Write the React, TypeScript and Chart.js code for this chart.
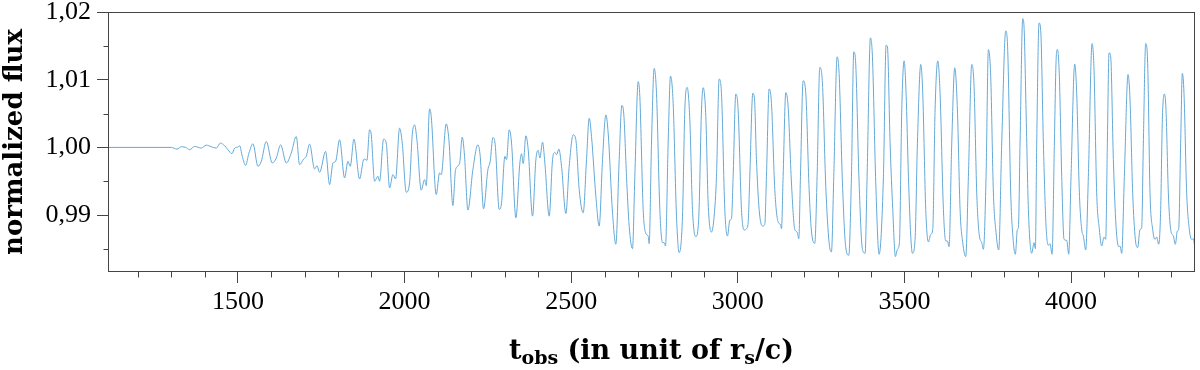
import React, { useEffect, useRef } from 'react';
import { Chart, registerables } from 'chart.js';

Chart.register(...registerables);

// ---- data ----
const T_OBS: number[] = [
  1110, 1200, 1300, 1317, 1330, 1343, 1355, 1370, 1390, 1405, 1420, 1435, 1447, 1460, 1470, 1482, 1490, 1500, 1505, 1513,
  1523, 1533, 1545, 1560, 1570, 1585, 1603, 1615, 1628, 1645, 1660, 1675, 1685, 1697, 1705, 1715, 1730, 1737, 1745, 1763,
  1775, 1785, 1793, 1805, 1820, 1830, 1837, 1848, 1865, 1877, 1880, 1887, 1895, 1900, 1910, 1920, 1925, 1937, 1945, 1955,
  1965, 1973, 1985, 1993, 2005, 2015, 2023, 2030, 2037, 2050, 2060, 2065, 2075, 2080, 2095, 2105, 2110, 2125, 2133, 2145,
  2153, 2165, 2173, 2180, 2190, 2205, 2220, 2227, 2237, 2250, 2257, 2265, 2272, 2284, 2291, 2301, 2306, 2314, 2321, 2334,
  2346, 2351, 2356, 2364, 2371, 2384, 2394, 2401, 2406, 2414, 2421, 2434, 2444, 2451, 2456, 2463, 2471, 2484, 2494, 2506,
  2514, 2524, 2536, 2546, 2554, 2561, 2574, 2584, 2594, 2604, 2611, 2624, 2634, 2644, 2652, 2658, 2666, 2674, 2684, 2691,
  2701, 2706, 2716, 2724, 2731, 2734, 2741, 2749, 2756, 2766, 2774, 2779, 2783, 2791, 2798, 2806, 2816, 2824, 2834, 2841,
  2848, 2856, 2864, 2874, 2883, 2891, 2896, 2904, 2911, 2921, 2929, 2936, 2944, 2951, 2961, 2969, 2976, 2981, 2986, 2994,
  3001, 3011, 3019, 3026, 3031, 3036, 3045, 3050, 3056, 3064, 3074, 3081, 3086, 3094, 3101, 3111, 3121, 3128, 3131, 3136,
  3144, 3151, 3161, 3171, 3178, 3183, 3188, 3196, 3204, 3214, 3221, 3231, 3238, 3246, 3254, 3264, 3274, 3281, 3288, 3298,
  3304, 3314, 3324, 3333, 3341, 3348, 3354, 3364, 3374, 3382, 3388, 3398, 3404, 3414, 3424, 3437, 3445, 3449, 3457, 3465,
  3473, 3479, 3485, 3492, 3499, 3505, 3512, 3519, 3524, 3532, 3539, 3549, 3555, 3564, 3572, 3579, 3585, 3592, 3600, 3607,
  3617, 3624, 3629, 3634, 3642, 3651, 3659, 3667, 3675, 3684, 3692, 3702, 3709, 3717, 3724, 3732, 3737, 3745, 3752, 3759,
  3767, 3775, 3783, 3792, 3804, 3810, 3819, 3827, 3833, 3839, 3842, 3847, 3855, 3859, 3865, 3872, 3882, 3889, 3893, 3897,
  3904, 3909, 3917, 3925, 3932, 3937, 3943, 3950, 3955, 3959, 3965, 3972, 3979, 3987, 3993, 4000, 4011, 4017, 4025, 4032,
  4037, 4044, 4052, 4063, 4069, 4077, 4085, 4092, 4099, 4104, 4109, 4114, 4119, 4127, 4135, 4143, 4147, 4152, 4160, 4171,
  4177, 4185, 4193, 4200, 4207, 4212, 4217, 4224, 4230, 4237, 4245, 4252, 4257, 4263, 4269, 4274, 4280, 4285, 4292, 4299,
  4307, 4313, 4319, 4323, 4329, 4334, 4339, 4347, 4355, 4362, 4367, 4372,
];

const FLUX: number[] = [
  1.0, 1.0, 1.0, 0.99975, 1.0001, 1.0, 0.99966, 1.00015, 0.9999, 1.00034, 1.0001, 0.9999, 1.00064, 1.00025, 0.99966, 0.99907, 0.9999, 1.00005, 1.00025, 0.99868,
  0.99735, 0.99917, 1.00054, 0.99721, 0.99794, 1.00088, 0.9977, 0.99843, 1.00039, 0.9977, 0.99917, 1.00162, 0.99745, 0.99828, 0.99868, 1.00049, 0.99681, 0.9973, 0.99632, 0.99941,
  0.99451, 0.9977, 0.99794, 1.00113, 0.99549, 0.99794, 0.99721, 1.00123, 0.99534, 0.99819, 0.99828, 0.99809, 1.0026, 1.00186, 0.995, 0.99574, 0.995, 1.00123, 1.00064, 0.99402,
  0.99598, 0.99534, 1.00284, 1.00064, 0.99338, 0.99475, 1.00186, 1.00333, 1.00113, 0.99368, 0.99525, 0.99436, 1.00569, 1.00456, 0.99304, 0.99623, 0.99598, 1.00348, 1.00113, 0.99142,
  0.99672, 0.9976, 1.00152, 0.99868, 0.99074, 0.99672, 1.00039, 0.99868, 0.99093, 0.99672, 0.99794, 1.00147, 1.00039, 0.99083, 0.99181, 0.99868, 0.99819, 1.0026, 1.00064, 0.98961,
  0.9977, 0.99907, 0.9976, 1.00172, 0.99966, 0.98985, 0.99819, 0.99956, 0.99843, 1.00078, 0.9977, 0.98985, 0.99819, 0.99926, 0.99892, 0.99975, 0.99721, 0.99025, 0.99721, 1.00186,
  1.00113, 0.99377, 0.99034, 0.99819, 1.00431, 1.00162, 0.99279, 0.98838, 0.99819, 1.0048, 1.00211, 0.99034, 0.98569, 0.99819, 1.0062, 1.0048, 0.99574, 0.98838, 0.98505, 0.99574,
  1.00971, 1.0075, 0.99083, 0.9873, 0.98691, 0.98578, 1.00064, 1.01167, 1.00799, 0.99083, 0.98593, 0.98593, 0.98544, 1.00064, 1.01054, 1.00652, 0.98985, 0.98446, 0.98985, 1.00554,
  1.00887, 1.00407, 0.99083, 0.98681, 0.98985, 1.00554, 1.00882, 1.00456, 0.99181, 0.9875, 0.98985, 0.99574, 1.0101, 1.00799, 0.99083, 0.98691, 0.98926, 0.98946, 0.99574, 1.00789,
  1.00554, 0.99083, 0.98779, 0.98799, 0.98887, 0.99574, 1.00799, 1.0072, 0.99819, 0.99083, 0.98838, 0.98863, 0.99574, 1.00863, 1.00652, 0.99377, 0.98897, 0.98863, 0.98799, 0.99574,
  1.00809, 1.00603, 0.99475, 0.98789, 0.9875, 0.98652, 0.99574, 1.00985, 1.00799, 0.99377, 0.98765, 0.98583, 0.99574, 1.01181, 1.00946, 0.99426, 0.98593, 0.98456, 0.99574, 1.01338,
  1.01093, 0.99475, 0.9852, 0.98407, 0.99574, 1.01412, 1.01216, 0.99475, 0.98495, 0.98436, 0.99574, 1.01618, 1.01338, 0.99475, 0.98422, 0.99574, 1.0151, 1.01485, 1.00064, 0.99083,
  0.98387, 0.98495, 0.98593, 1.00554, 1.01279, 1.00799, 0.99574, 0.98691, 0.98436, 0.98642, 1.00064, 1.01225, 1.00799, 0.99083, 0.98603, 0.98716, 0.98789, 1.00554, 1.01279, 1.00799,
  0.99083, 0.98618, 0.98618, 0.98534, 1.00064, 1.01176, 1.00554, 0.99083, 0.98593, 0.98387, 0.99574, 1.01225, 1.00897, 0.99328, 0.9873, 0.98593, 0.98495, 0.99574, 1.01446, 1.01044,
  0.99328, 0.9874, 0.98485, 1.00064, 1.01721, 1.01436, 0.99328, 0.98593, 0.98422, 0.98789, 0.98814, 1.00064, 1.01902, 1.01779, 1.00554, 0.99083, 0.98436, 0.98593, 0.98505, 1.00064,
  1.01838, 1.0173, 1.00064, 0.98838, 0.98554, 0.98578, 0.98422, 1.00064, 1.01265, 1.01446, 1.01044, 0.99574, 0.98642, 0.98627, 0.98422, 0.99574, 1.0123, 1.00799, 0.99328, 0.98789,
  0.98691, 0.98485, 0.99574, 1.01534, 1.01142, 0.99328, 0.98789, 0.98544, 0.98676, 0.98642, 1.00064, 1.01397, 1.01338, 0.99819, 0.98838, 0.98534, 0.98544, 0.98436, 0.99574, 1.01078,
  1.00701, 0.99328, 0.98642, 0.9852, 0.98789, 0.98814, 1.00064, 1.01534, 1.0124, 0.99328, 0.98789, 0.98642, 0.98676, 0.98569, 0.99083, 1.00407, 1.00789, 1.00554, 0.99328, 0.98789,
  0.98691, 0.98569, 0.98765, 0.98789, 1.00064, 1.01093, 1.00799, 0.99328, 0.98789, 0.98642, 0.98652, 0.98495,
];

const X_MAJOR_TICKS: number[] = [1500, 2000, 2500, 3000, 3500, 4000];
const X_MINOR_TICKS: number[] = [
  1200, 1300, 1400, 1600, 1700, 1800, 1900, 2100, 2200, 2300, 2400, 2600, 2700, 2800, 2900,
  3100, 3200, 3300, 3400, 3600, 3700, 3800, 3900, 4100, 4200, 4300,
];
const Y_MAJOR_TICKS: number[] = [0.99, 1.0, 1.01, 1.02];
const Y_MINOR_TICKS: number[] = [0.985, 0.995, 1.005, 1.015];
const X_MIN = 1110;
const X_MAX = 4372;
const Y_MIN = 0.9816;
const Y_MAX = 1.02;

const Y_TITLE = 'normalized flux';
const X_TITLE_PARTS: { text: string; sub: boolean }[] = [
  { text: 't', sub: false },
  { text: 'obs', sub: true },
  { text: ' (in unit of r', sub: false },
  { text: 's', sub: true },
  { text: '/c)', sub: false },
];

const LINE_COLOR = '#63a9d8';
const AXIS_COLOR = '#444444';
const FONT_FAMILY = '"Liberation Serif", "DejaVu Serif", serif';
const TITLE_FAMILY = '"DejaVu Serif", "Liberation Serif", serif';

const framePlugin = {
  id: 'framePlugin',
  afterDraw(chart: any) {
    const { ctx, chartArea } = chart;
    const xs = chart.scales.x;
    const ys = chart.scales.y;
    ctx.save();
    ctx.strokeStyle = AXIS_COLOR;
    ctx.lineWidth = 1;
    const l = Math.round(chartArea.left) + 0.5;
    const r = Math.round(chartArea.right) - 0.5;
    const t = Math.round(chartArea.top) + 0.5;
    const b = Math.round(chartArea.bottom) - 0.5;
    ctx.strokeRect(l, t, r - l, b - t);
    // minor ticks
    ctx.beginPath();
    for (const v of X_MINOR_TICKS) {
      const px = Math.round(xs.getPixelForValue(v)) + 0.5;
      ctx.moveTo(px, b);
      ctx.lineTo(px, b + 6);
    }
    for (const v of Y_MINOR_TICKS) {
      const py = Math.round(ys.getPixelForValue(v)) + 0.5;
      ctx.moveTo(l, py);
      ctx.lineTo(l - 5, py);
    }
    ctx.stroke();
    // x title with subscripts
    const mainFont = `bold 27px ${TITLE_FAMILY}`;
    const subFont = `bold 19px ${TITLE_FAMILY}`;
    let total = 0;
    for (const p of X_TITLE_PARTS) {
      ctx.font = p.sub ? subFont : mainFont;
      total += ctx.measureText(p.text).width;
    }
    let x = (chartArea.left + chartArea.right) / 2 - total / 2;
    const baseY = 359;
    ctx.fillStyle = '#000000';
    ctx.textBaseline = 'alphabetic';
    ctx.textAlign = 'left';
    for (const p of X_TITLE_PARTS) {
      ctx.font = p.sub ? subFont : mainFont;
      ctx.fillText(p.text, x, p.sub ? baseY + 5 : baseY);
      x += ctx.measureText(p.text).width;
    }
    ctx.restore();
  },
};

export default function App() {
  const canvasRef = useRef<HTMLCanvasElement | null>(null);

  useEffect(() => {
    document.body.style.margin = '0';
    const canvas = canvasRef.current;
    if (!canvas) return;
    const points = T_OBS.map((t, i) => ({ x: t, y: FLUX[i] }));
    const chart = new Chart(canvas, {
      type: 'line',
      data: {
        datasets: [
          {
            data: points,
            borderColor: LINE_COLOR,
            borderWidth: 1,
            pointRadius: 0,
            fill: false,
            cubicInterpolationMode: 'monotone',
          },
        ],
      },
      options: {
        animation: false,
        responsive: false,
        maintainAspectRatio: false,
        layout: { padding: { top: 12, right: 5, left: 0, bottom: 0 } },
        plugins: { legend: { display: false }, tooltip: { enabled: false } },
        scales: {
          x: {
            type: 'linear',
            min: X_MIN,
            max: X_MAX,
            afterBuildTicks: (s: any) => {
              s.ticks = X_MAJOR_TICKS.map((v) => ({ value: v }));
            },
            afterFit: (s: any) => {
              s.height = 98;
              s.paddingLeft = 0;
              s.paddingRight = 0;
            },
            ticks: {
              autoSkip: false,
              maxRotation: 0,
              padding: 4,
              color: '#000000',
              font: { family: FONT_FAMILY, size: 26 },
              callback: (v: any) => String(v),
            },
            grid: { drawOnChartArea: false, tickLength: 11, tickColor: AXIS_COLOR, tickWidth: 1 },
            border: { display: false },
          },
          y: {
            type: 'linear',
            min: Y_MIN,
            max: Y_MAX,
            afterBuildTicks: (s: any) => {
              s.ticks = Y_MAJOR_TICKS.map((v) => ({ value: v }));
            },
            afterFit: (s: any) => {
              s.width = 108;
              s.paddingTop = 0;
              s.paddingBottom = 0;
            },
            ticks: {
              autoSkip: false,
              padding: 6,
              color: '#000000',
              font: { family: FONT_FAMILY, size: 26 },
              callback: (v: any) => Number(v).toFixed(2).replace('.', ','),
            },
            grid: { drawOnChartArea: false, tickLength: 11, tickColor: AXIS_COLOR, tickWidth: 1 },
            border: { display: false },
            title: {
              display: true,
              text: Y_TITLE,
              color: '#000000',
              font: { family: TITLE_FAMILY, size: 26, weight: 'bold' },
              padding: { top: 0, bottom: 0 },
            },
          },
        },
      },
      plugins: [framePlugin],
    });
    return () => chart.destroy();
  }, []);

  return (
    <div style={{ width: 1200, height: 370 }}>
      <canvas ref={canvasRef} width={1200} height={370} style={{ display: 'block' }} />
    </div>
  );
}
